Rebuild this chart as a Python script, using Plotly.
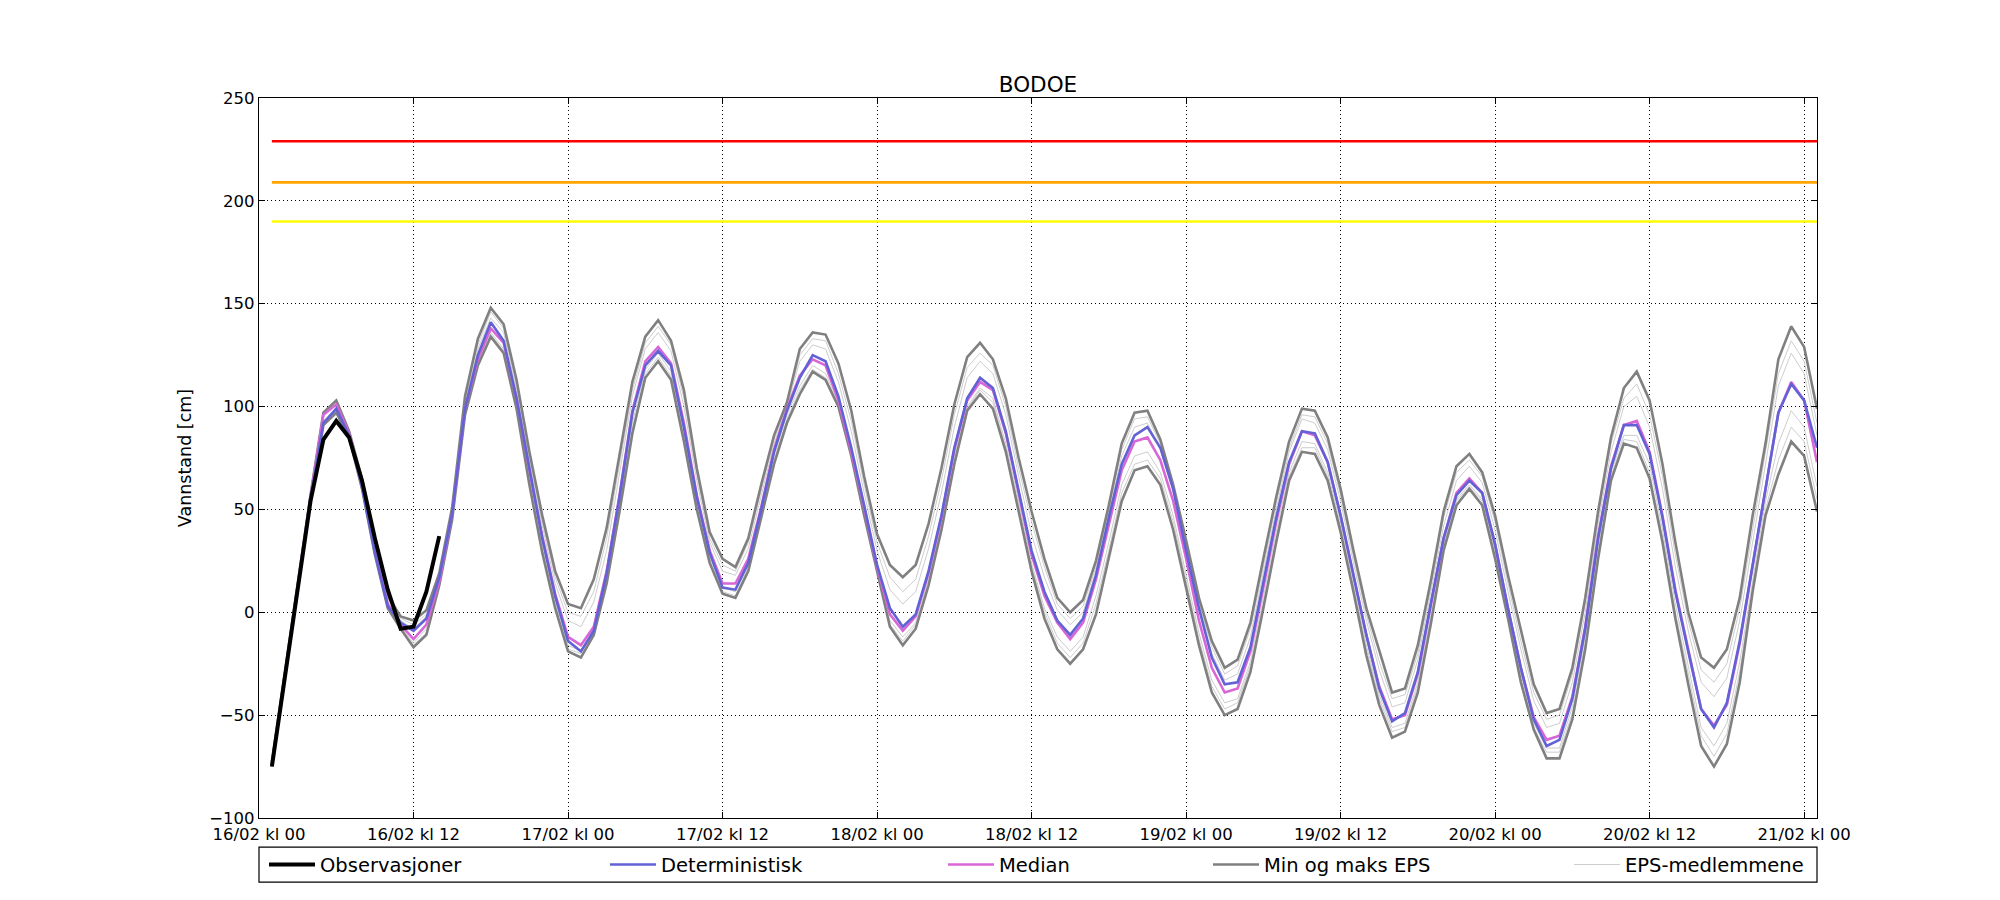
import pandas as pd
import plotly.graph_objects as go

# ---------------- data (cm) ----------------
START = "2016-02-16 00:00"
obs_hours = list(range(1, 15))
fc_hours = list(range(1, 122))

obs_cm = [-75, -31, 13, 54, 84, 93, 85, 64, 36, 11, -8, -7, 10, 37]

det_cm = [-74,-32,12,55,92,99,86,61,29,3, -5,-9,-3,17,48,99,125,141,132,104,
          69,36,8,-14,-19,-9,19,56,97,120, 127,120,90,56,29,12,11,24,50,78,
          98,114,125,122,105,80,52,23,2,-7, -1,20,47,80,104,114,109,88,59,30,
          10,-4,-11,-3,18,46,72,86,90,80, 60,30,2,-22,-35,-34,-17,15,46,73,
          88,87,73,47,18,-11,-37,-53,-49,-29, 4,36,57,64,58,33,2,-27,-52,-65,
          -62,-42,-8,36,70,91,91,77,46,10, -19,-47,-56,-44,-14,23,62,97,111,103,
          80]

median_cm = [-74,-31,13,56,96,101,87,62,31,4, -6,-13,-6,15,48,99,123,138,131,104,
             69,37,9,-12,-16,-7,20,57,98,122, 129,121,92,57,30,14,14,26,51,79,
             99,115,123,120,103,78,51,22,-1,-9, -2,19,46,79,103,112,108,87,58,28,
             8,-5,-13,-5,16,43,69,83,85,74, 54,26,-4,-27,-39,-37,-19,12,44,72,
             88,86,73,47,18,-11,-36,-52,-50,-30, 3,36,58,65,58,33,2,-27,-51,-62,
             -60,-41,-7,37,71,91,93,78,47,11, -18,-47,-55,-45,-15,22,61,97,112,103,
             73]

eps_max_cm = [-73,-30,14,57,97,103,88,65,34,8, -2,-4,1,19,51,105,133,148,140,113,
              78,47,20,4,2,16,41,77,112,134, 142,132,108,70,39,26,22,36,62,86,
              102,128,136,135,121,98,66,38,23,17, 23,43,70,101,124,131,123,104,75,49,
              26,7,0,6,25,52,82,97,98,84, 62,35,7,-14,-27,-23,-5,26,56,83,
              99,98,85,60,30,2,-19,-39,-37,-16, 15,49,71,77,68,47,18,-9,-35,-49,
              -47,-27,7,49,85,109,117,103,72,34, 0,-22,-27,-18,7,47,82,123,139,129,
              99]

eps_min_cm = [-75,-33,11,54,91,97,85,60,28,2, -8,-17,-11,13,45,96,120,134,126,99,
              62,29,2,-19,-22,-11,14,49,87,114, 122,113,83,50,24,9,7,20,46,72,
              92,106,117,113,100,76,47,20,-7,-16, -8,13,40,72,98,106,99,78,49,20,
              -3,-18,-25,-18,-1,26,54,69,71,62, 40,12,-16,-39,-50,-47,-29,2,34,64,
              78,77,64,39,10,-21,-45,-61,-58,-39, -6,30,52,60,52,26,-3,-34,-57,-71,
              -71,-52,-18,26,64,82,80,65,34,-3, -35,-65,-75,-64,-34,10,47,67,83,76,
              49]

eps_member_1 = [-73,-30,14,57,96,102,88,64,33,6, -4,-8,-2,17,50,102,128,143,136,108,
                74,42,14,-4,-7,5,30,67,105,128, 136,127,100,64,34,20,18,31,56,82,
                100,122,130,128,112,88,58,30,11,4, 10,31,58,90,114,122,116,96,66,38,
                17,1,-6,0,20,48,76,90,92,79, 58,30,2,-20,-33,-30,-12,19,50,78,
                94,92,79,54,24,-4,-28,-46,-44,-23, 9,42,64,71,63,40,10,-18,-43,-56,
                -54,-34,0,43,78,100,105,90,60,22, -9,-34,-41,-32,-4,34,72,110,126,116,
                86]

eps_member_2 = [-74,-32,12,55,93,99,86,61,29,3, -7,-15,-8,14,46,98,122,136,128,102,
                66,33,6,-16,-19,-9,17,53,92,118, 126,117,88,54,27,12,10,23,48,76,
                96,110,120,116,102,77,49,21,-4,-12, -5,16,43,76,100,109,104,82,54,24,
                2,-12,-19,-12,8,34,62,76,78,68, 47,19,-10,-33,-44,-42,-24,7,39,68,
                83,82,68,43,14,-16,-40,-56,-54,-34, -2,33,55,62,55,30,0,-30,-54,-66,
                -66,-46,-12,32,68,86,86,72,40,4, -26,-56,-65,-54,-24,16,54,82,98,90,
                61]

eps_member_3 = [-73,-30,14,57,96,102,88,64,33,7, -3,-6,-1,18,50,104,130,146,138,110,
                76,44,17,0,-2,10,36,72,108,131, 139,130,104,67,36,23,20,34,59,84,
                101,125,133,132,116,93,62,34,17,10, 16,37,64,96,119,126,120,100,70,44,
                22,4,-3,3,22,50,79,94,95,82, 60,32,4,-17,-30,-26,-8,22,53,80,
                96,95,82,57,27,-1,-24,-42,-40,-20, 12,46,68,74,66,44,14,-14,-39,-52,
                -50,-30,4,46,82,104,111,96,66,28, -4,-28,-34,-25,2,40,77,116,132,122,
                92]

eps_member_4 = [-75,-32,11,54,92,98,85,60,28,2, -8,-16,-10,13,45,97,121,135,127,100,
                64,31,4,-18,-20,-10,16,51,89,116, 124,115,86,52,26,10,8,22,47,74,
                94,108,118,114,101,76,48,20,-6,-14, -6,14,42,74,99,108,102,80,52,22,
                0,-15,-22,-15,4,30,58,72,74,65, 44,16,-13,-36,-47,-44,-26,4,36,66,
                80,80,66,41,12,-18,-42,-58,-56,-36, -4,32,54,61,54,28,-2,-32,-56,-68,
                -68,-49,-15,29,66,84,83,68,37,0, -30,-60,-70,-59,-29,13,50,74,90,83,
                55]

threshold_levels = [229, 209, 190]
threshold_colors = ["#ff0000", "#ffa500", "#ffff00"]

tick_hours = list(range(0, 121, 12))

# ---------------- figure ----------------
base = pd.Timestamp(START)
obs_t = [base + pd.Timedelta(hours=h) for h in obs_hours]
fc_t = [base + pd.Timedelta(hours=h) for h in fc_hours]
tick_t = [base + pd.Timedelta(hours=h) for h in tick_hours]

FONT = "DejaVu Sans"
GRID_DASH = "1px,3px"
fig = go.Figure()

for lvl, col in zip(threshold_levels, threshold_colors):
    fig.add_trace(go.Scatter(x=[fc_t[0], fc_t[-1]], y=[lvl, lvl], mode="lines",
                             line=dict(color=col, width=2.6), showlegend=False,
                             hoverinfo="skip"))

members = [eps_member_1, eps_member_2, eps_member_3, eps_member_4]
for i, m in enumerate(members):
    fig.add_trace(go.Scatter(x=fc_t, y=m, mode="lines",
                             line=dict(color="#cdcdcd", width=1),
                             name="EPS-medlemmene", legend="legend5",
                             showlegend=(i == 0)))

fig.add_trace(go.Scatter(x=fc_t, y=eps_max_cm, mode="lines",
                         line=dict(color="#808080", width=2.6),
                         name="Min og maks EPS", legend="legend4", showlegend=True))
fig.add_trace(go.Scatter(x=fc_t, y=eps_min_cm, mode="lines",
                         line=dict(color="#808080", width=2.6),
                         name="Min og maks EPS", legend="legend4", showlegend=False))
fig.add_trace(go.Scatter(x=fc_t, y=median_cm, mode="lines",
                         line=dict(color="#d866d6", width=2.6),
                         name="Median", legend="legend3"))
fig.add_trace(go.Scatter(x=fc_t, y=det_cm, mode="lines",
                         line=dict(color="#6262d6", width=2.6),
                         name="Deterministisk", legend="legend2"))
fig.add_trace(go.Scatter(x=obs_t, y=obs_cm, mode="lines",
                         line=dict(color="#000000", width=4),
                         name="Observasjoner", legend="legend"))

L, R, T, B = 251, 191, 90, 90
plot_w = 2000 - L - R
legend_left_px = [256, 597, 935, 1200, 1561]
leg_x = [(p - L) / plot_w for p in legend_left_px]
leg_common = dict(orientation="h", yanchor="middle", xanchor="left", y=-0.065,
                  bgcolor="rgba(0,0,0,0)", borderwidth=0,
                  font=dict(family=FONT, size=19.5, color="black"), itemwidth=46)

layout_legends = {}
names = ["legend", "legend2", "legend3", "legend4", "legend5"]
for n, lx in zip(names, leg_x):
    layout_legends[n] = dict(x=lx, **leg_common)

fig.update_layout(
    width=2000, height=900,
    margin=dict(l=L, r=R, t=T, b=B),
    paper_bgcolor="white", plot_bgcolor="white",
    font=dict(family=FONT, size=16.5, color="black"),
    title=dict(text="BODOE", x=(L + plot_w / 2) / 2000, xanchor="center",
               y=1 - 76 / 900, yanchor="middle",
               font=dict(family=FONT, size=21.5, color="black")),
    xaxis=dict(type="date", range=[base, base + pd.Timedelta(hours=121)],
               tickvals=tick_t, tickformat="%d/%m kl %H",
               showgrid=True, gridcolor="black", griddash=GRID_DASH, gridwidth=1,
               showline=True, linecolor="black", linewidth=1.3, mirror="ticks",
               ticks="inside", ticklen=6, tickcolor="black", ticklabelstandoff=1,
               tickfont=dict(family=FONT, size=16.5, color="black"), zeroline=False),
    yaxis=dict(range=[-100, 250], tickvals=[-100, -50, 0, 50, 100, 150, 200, 250],
               showgrid=True, gridcolor="black", griddash=GRID_DASH, gridwidth=1,
               showline=True, linecolor="black", linewidth=1.3, mirror="ticks",
               ticks="inside", ticklen=6, tickcolor="black", zeroline=False,
               tickfont=dict(family=FONT, size=16.5, color="black"),
               title=dict(text="Vannstand [cm]", standoff=13,
                          font=dict(family=FONT, size=17.5, color="black"))),
    shapes=[dict(type="rect", xref="paper", yref="paper", x0=0, x1=1,
                 y0=-0.089, y1=-0.0405, line=dict(color="black", width=1.2),
                 fillcolor="rgba(0,0,0,0)")],
    **layout_legends,
)

fig.write_html("out.html")
